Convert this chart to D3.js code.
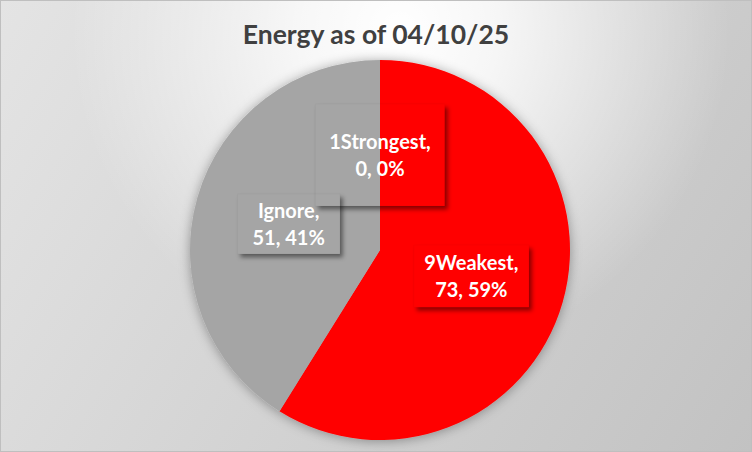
<!DOCTYPE html>
<html>
<head>
<meta charset="utf-8">
<script src="https://cdn.jsdelivr.net/npm/d3@7/dist/d3.min.js"></script>
<style>
  html, body { margin: 0; padding: 0; background: #fff; }
  svg { display: block; }
  text { font-family: Lato, "Open Sans", sans-serif; }
</style>
</head>
<body>
<div id="chart"></div>
<script>
// ---- data ----
const title = "Energy as of 04/10/25";
const categories = ["9Weakest", "Ignore", "1Strongest"];
const values = [73, 51, 0];
const colors = ["#ff0000", "#a5a5a5", "#7f7f7f"];

// ---- layout ----
const W = 752, H = 452;
const cx = 380, cy = 250, R = 190;

const svg = d3.select("#chart").append("svg").attr("width", W).attr("height", H);
const defs = svg.append("defs");

// background gradients
const lin = defs.append("linearGradient").attr("id", "bgLin")
  .attr("gradientUnits", "userSpaceOnUse")
  .attr("x1", 0).attr("y1", 0).attr("x2", W).attr("y2", H);
lin.append("stop").attr("offset", 0).attr("stop-color", "#e4e4e4");
lin.append("stop").attr("offset", 1).attr("stop-color", "#c2c2c2");

const rad = defs.append("radialGradient").attr("id", "bgRad")
  .attr("gradientUnits", "userSpaceOnUse")
  .attr("cx", 400).attr("cy", 30).attr("r", 330);
rad.append("stop").attr("offset", 0).attr("stop-color", "#ffffff").attr("stop-opacity", 1);
rad.append("stop").attr("offset", 0.3).attr("stop-color", "#ffffff").attr("stop-opacity", 0.8);
rad.append("stop").attr("offset", 1).attr("stop-color", "#ffffff").attr("stop-opacity", 0);

svg.append("rect").attr("width", W).attr("height", H).attr("fill", "url(#bgLin)");
svg.append("rect").attr("width", W).attr("height", H).attr("fill", "url(#bgRad)");
svg.append("rect").attr("x", 0.5).attr("y", 0.5).attr("width", W - 1).attr("height", H - 1)
  .attr("fill", "none").attr("stroke", "#bfbfbf").attr("stroke-width", 1);

// title
svg.append("text")
  .attr("x", 376).attr("y", 44)
  .attr("text-anchor", "middle")
  .attr("font-size", 26.5).attr("font-weight", 700)
  .attr("fill", "#404040")
  .text(title);

// pie shadow filter
const ps = defs.append("filter").attr("id", "pieShadow")
  .attr("x", "-20%").attr("y", "-20%").attr("width", "140%").attr("height", "140%");
ps.append("feDropShadow").attr("dx", 0).attr("dy", 1).attr("stdDeviation", 6)
  .attr("flood-color", "#000").attr("flood-opacity", 0.35);

const blur = defs.append("filter").attr("id", "boxBlur")
  .attr("x", "-30%").attr("y", "-30%").attr("width", "160%").attr("height", "160%");
blur.append("feGaussianBlur").attr("stdDeviation", 2.2);

const data = categories.map((c, i) => ({ cat: c, value: values[i], color: colors[i] }));
const total = d3.sum(values);

const pie = d3.pie().sort(null).value(d => d.value).startAngle(0).endAngle(2 * Math.PI);
const arcs = pie(data);
const arc = d3.arc().innerRadius(0).outerRadius(R);

const g = svg.append("g").attr("transform", `translate(${cx},${cy})`);
g.append("g").attr("filter", "url(#pieShadow)")
  .selectAll("path").data(arcs).join("path")
  .attr("d", arc)
  .attr("fill", d => d.data.color);

// labels
const boxPad = { "9Weakest": [10.5, 62], "Ignore": [15, 60], "1Strongest": [14, 102] };
const lineGap = 27;
const lg = g.append("g");
arcs.forEach((a, i) => {
  const [x, y] = arc.centroid(a);
  const pct = Math.round(a.data.value / total * 100);
  const lines = [`${a.data.cat},`, `${a.data.value}, ${pct}%`];
  const grp = lg.append("g").attr("transform", `translate(${x},${y})`);
  const t = grp.append("text")
    .attr("text-anchor", "middle")
    .attr("font-size", 20).attr("font-weight", 700)
    .attr("fill", "#ffffff");
  lines.forEach((l, k) => {
    t.append("tspan").attr("x", 0).attr("y", (k - 0.5) * lineGap + 7.5).text(l);
  });
  const bb = t.node().getBBox();
  const [pad, bh] = boxPad[a.data.cat];
  const bw = bb.width + 2 * pad;
  const bx = -bw / 2, by = -bh / 2;
  // shadow visible only outside the box
  const mid = "m" + i;
  const m = defs.append("mask").attr("id", mid).attr("maskUnits", "userSpaceOnUse")
    .attr("x", -W).attr("y", -H).attr("width", 2 * W).attr("height", 2 * H);
  m.append("rect").attr("x", -W).attr("y", -H).attr("width", 2 * W).attr("height", 2 * H).attr("fill", "#fff");
  m.append("rect").attr("x", bx).attr("y", by).attr("width", bw).attr("height", bh).attr("fill", "#000");
  grp.insert("g", "text").attr("mask", `url(#${mid})`)
    .append("rect")
    .attr("x", bx + 3).attr("y", by + 3.5).attr("width", bw).attr("height", bh)
    .attr("fill", "#000").attr("fill-opacity", 0.45)
    .attr("filter", "url(#boxBlur)");
  grp.insert("rect", "text")
    .attr("x", bx).attr("y", by).attr("width", bw).attr("height", bh)
    .attr("fill", a.data.value > 0 ? a.data.color : "none")
    .attr("stroke", "#000").attr("stroke-opacity", 0.025);
});
</script>
</body>
</html>
